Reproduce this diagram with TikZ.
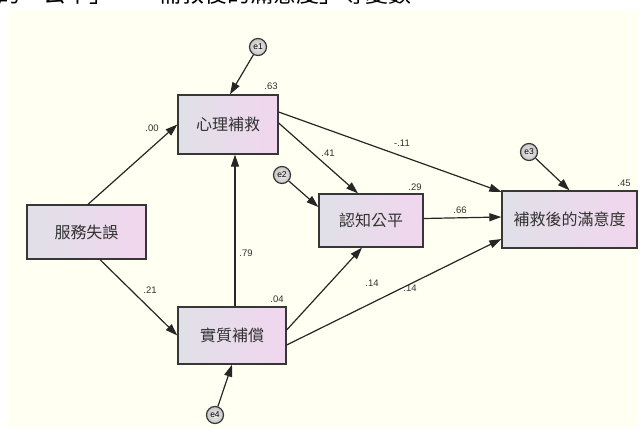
\documentclass[tikz,border=0pt]{standalone}
\usepackage{fontspec}
\setmainfont{Liberation Sans}
\newfontfamily\cjk{Noto Sans CJK TC}
\usetikzlibrary{arrows.meta}
\definecolor{bgcream}{RGB}{255,255,242}
\definecolor{boxleft}{RGB}{224,224,232}
\definecolor{boxright}{RGB}{241,214,238}
\definecolor{edge}{RGB}{55,55,55}
\definecolor{txt}{RGB}{50,50,50}
\tikzset{
  varbox/.style={draw=edge, line width=1.3pt, inner sep=0pt, left color=boxleft, right color=boxright,
    font=\cjk\fontsize{16}{16}\selectfont, text=txt},
  errc/.style={circle, draw=edge, line width=1.2pt, inner sep=0pt, minimum size=17pt,
    inner color=gray!15, outer color=gray!45, font=\fontsize{8.5}{8.5}\selectfont},
  path/.style={draw=black!85, line width=1.2pt, -{Triangle[length=12pt,width=8pt]}},
  coef/.style={font=\fontsize{9.5}{9.5}\selectfont, text=txt, inner sep=0pt}
}
\begin{document}
\begin{tikzpicture}[x=1pt,y=-1pt]
\useasboundingbox (0,0) rectangle (641,434);
\fill[white] (0,0) rectangle (641,434);
\fill[bgcream] (7,10) rectangle (637,428);
% cut-off caption line at the top
\node[anchor=base west, inner sep=0pt, font=\cjk\fontsize{23}{23}\selectfont] (cap) at (-3,2) {的「公平」、「補救後的滿意度」等變數};
% variables
\node[varbox, minimum width=100pt, minimum height=59pt] (psy) at (228,124.5) {心理補救};
\node[varbox, minimum width=119pt, minimum height=54pt] (fail) at (86.5,232) {服務失誤};
\node[varbox, minimum width=104pt, minimum height=53pt] (cog) at (371,220.5) {認知公平};
\node[varbox, minimum width=135pt, minimum height=57pt] (sat) at (569.5,219.5) {補救後的滿意度};
\node[varbox, minimum width=108pt, minimum height=57pt] (mat) at (232,335.5) {實質補償};
% error terms
\node[errc] (e1) at (258,47) {e1};
\node[errc] (e2) at (282,175) {e2};
\node[errc] (e3) at (529,152) {e3};
\node[errc] (e4) at (215,415) {e4};
% paths
\draw[path] ([xshift=1.5pt]fail.north) -- (psy.west);
\draw[path] ([xshift=13.5pt]fail.south) -- (mat.west);
\draw[path] ([xshift=3pt]mat.north) -- ([xshift=7pt]psy.south);
\draw[path] ([yshift=1.5pt]psy.east) -- ([xshift=-13pt]cog.north);
\draw[path] ([yshift=12.5pt]psy.east) -- ([yshift=-1.5pt]sat.north west);
\draw[path] ([yshift=2pt]cog.east) -- ([yshift=2.5pt]sat.west);
\draw[path] ([yshift=5.5pt]mat.east) -- ([xshift=-9pt]cog.south);
\draw[path] ([yshift=-9.5pt]mat.east) -- ([yshift=-19.5pt]sat.west);
\draw[path] (e1) -- ([xshift=2pt]psy.north);
\draw[path] (e2) -- ([yshift=13.5pt]cog.west);
\draw[path] (e3) -- (sat.north);
\draw[path] (e4) -- (mat.south);
% coefficients
\node[coef] (c63) at (271,86) {.63};
\node[coef] (c00) at (152,128) {.00};
\node[coef] (c21) at (150,290) {.21};
\node[coef] (c79) at (246,253) {.79};
\node[coef] (c41) at (328,153) {.41};
\node[coef] (c11) at (402,143) {-.11};
\node[coef] (c29) at (415,187) {.29};
\node[coef] (c66) at (460,210) {.66};
\node[coef] (c45) at (624,183) {.45};
\node[coef] (c04) at (277,299) {.04};
\node[coef] (c14a) at (372,283) {.14};
\node[coef] (c14b) at (410,288) {.14};
\end{tikzpicture}
\end{document}
